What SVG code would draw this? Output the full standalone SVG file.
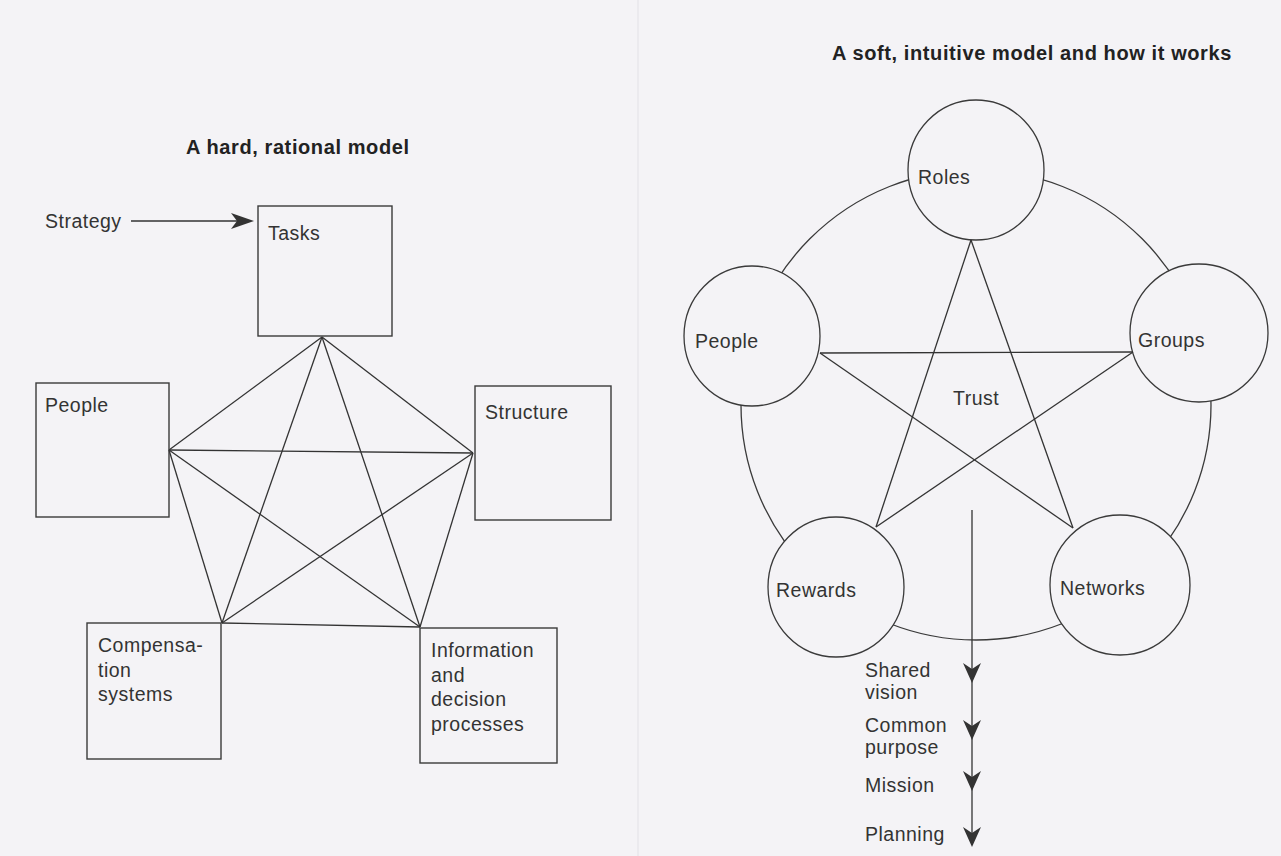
<svg xmlns="http://www.w3.org/2000/svg" width="1281" height="856" viewBox="0 0 1281 856">
<style>
  .bg { fill: #f4f3f6; }
  .box { fill: none; stroke: #3a3a3a; stroke-width: 1.4; }
  .circ { fill: #f4f3f6; stroke: #3a3a3a; stroke-width: 1.3; }
  .ring { fill: none; stroke: #3a3a3a; stroke-width: 1.3; }
  .edge { fill: none; stroke: #333; stroke-width: 1.3; }
  .lbl { font-family: "Liberation Sans", Arial, sans-serif; font-size: 19.5px; letter-spacing: 0.5px; fill: #333; }
  .title { font-family: "Liberation Sans", Arial, sans-serif; font-size: 20px; font-weight: bold; letter-spacing: 0.6px; fill: #222; }
  .head { fill: #333; }
</style>
<defs>
  <path id="downHead" d="M0,0 L-9,-20 L0,-14 L9,-20 Z"/>
  <path id="rightHead" d="M0,0 L-23,-8 L-17,0 L-23,8 Z"/>
</defs>
<rect class="bg" x="0" y="0" width="1281" height="856"/>
<line x1="638" y1="0" x2="638" y2="856" stroke="#e2e1e6" stroke-width="1"/>

<g id="left-title"><text class="title" x="186" y="154">A hard, rational model</text></g>
<g id="right-title"><text class="title" x="832" y="60">A soft, intuitive model and how it works</text></g>

<g id="connectors">
  <!-- hard model: complete graph -->
  <line class="edge" x1="322" y1="337" x2="169" y2="450"/>
  <line class="edge" x1="322" y1="337" x2="473" y2="453"/>
  <line class="edge" x1="322" y1="337" x2="222" y2="623"/>
  <line class="edge" x1="322" y1="337" x2="420" y2="627"/>
  <line class="edge" x1="169" y1="450" x2="473" y2="453"/>
  <line class="edge" x1="169" y1="450" x2="222" y2="623"/>
  <line class="edge" x1="169" y1="450" x2="420" y2="627"/>
  <line class="edge" x1="473" y1="453" x2="222" y2="623"/>
  <line class="edge" x1="473" y1="453" x2="420" y2="627"/>
  <line class="edge" x1="222" y1="623" x2="420" y2="627"/>
  <!-- strategy arrow -->
  <line class="edge" x1="131" y1="221" x2="238" y2="221"/>
  <use href="#rightHead" class="head" x="254" y="221"/>
  <!-- soft model ring -->
  <circle class="ring" cx="976" cy="405" r="235"/>
</g>

<g id="node-strategy"><text class="lbl" x="45" y="228">Strategy</text></g>
<g id="node-tasks"><rect class="box" x="258" y="206" width="134" height="130"/><text class="lbl" x="268" y="240">Tasks</text></g>
<g id="node-people-box"><rect class="box" x="36" y="383" width="133" height="134"/><text class="lbl" x="45" y="412">People</text></g>
<g id="node-structure"><rect class="box" x="475" y="386" width="136" height="134"/><text class="lbl" x="485" y="419">Structure</text></g>
<g id="node-compensation"><rect class="box" x="87" y="623" width="134" height="136"/><text class="lbl" x="98" y="652"><tspan x="98">Compensa-</tspan><tspan x="98" dy="24.5">tion</tspan><tspan x="98" dy="24.5">systems</tspan></text></g>
<g id="node-information"><rect class="box" x="420" y="628" width="137" height="135"/><text class="lbl" x="431" y="657"><tspan x="431">Information</tspan><tspan x="431" dy="24.5">and</tspan><tspan x="431" dy="24.5">decision</tspan><tspan x="431" dy="24.5">processes</tspan></text></g>

<g id="node-roles"><ellipse class="circ" cx="976" cy="170" rx="68" ry="70"/><text class="lbl" x="918" y="184">Roles</text></g>
<g id="node-people-circle"><ellipse class="circ" cx="752" cy="336" rx="68" ry="70"/><text class="lbl" x="695" y="348">People</text></g>
<g id="node-groups"><ellipse class="circ" cx="1199" cy="333" rx="69" ry="69"/><text class="lbl" x="1138" y="347">Groups</text></g>
<g id="node-rewards"><ellipse class="circ" cx="836" cy="587" rx="68" ry="70"/><text class="lbl" x="776" y="597">Rewards</text></g>
<g id="node-networks"><ellipse class="circ" cx="1120" cy="585" rx="70" ry="70"/><text class="lbl" x="1060" y="595">Networks</text></g>
<g id="node-trust"><text class="lbl" x="953" y="405">Trust</text></g>

<g id="star-connectors">
  <line class="edge" x1="971" y1="240" x2="876" y2="527"/>
  <line class="edge" x1="971" y1="240" x2="1073" y2="528"/>
  <line class="edge" x1="820" y1="353" x2="1133" y2="352"/>
  <line class="edge" x1="820" y1="353" x2="1073" y2="528"/>
  <line class="edge" x1="1133" y1="352" x2="876" y2="527"/>
  <!-- process arrow -->
  <line class="edge" x1="972" y1="510" x2="972" y2="845"/>
  <use href="#downHead" class="head" x="972" y="683"/>
  <use href="#downHead" class="head" x="972" y="740"/>
  <use href="#downHead" class="head" x="972" y="791"/>
  <use href="#downHead" class="head" x="972" y="847"/>
</g>

<g id="steps">
  <text class="lbl" x="865" y="677"><tspan x="865">Shared</tspan><tspan x="865" dy="22">vision</tspan></text>
  <text class="lbl" x="865" y="732"><tspan x="865">Common</tspan><tspan x="865" dy="22">purpose</tspan></text>
  <text class="lbl" x="865" y="792">Mission</text>
  <text class="lbl" x="865" y="841">Planning</text>
</g>
</svg>
